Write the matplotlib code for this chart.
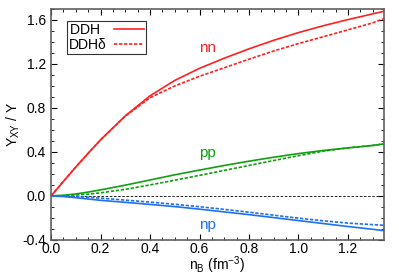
import numpy as np
import matplotlib
matplotlib.use("Agg")
import matplotlib.pyplot as plt
from matplotlib.ticker import MultipleLocator

plt.rcParams['font.family'] = ['Liberation Sans', 'DejaVu Sans']

# densities (fm^-3)
nB = [0.0, 0.05, 0.1, 0.15, 0.2, 0.3, 0.4, 0.5, 0.6, 0.7, 0.8, 0.9, 1.0, 1.1, 1.2, 1.3, 1.342]

# DDH (solid)
nn_ddh = [0.0, 0.132, 0.263, 0.388, 0.51, 0.728, 0.91, 1.05, 1.16, 1.252, 1.337, 1.415, 1.485,
          1.547, 1.603, 1.655, 1.677]
pp_ddh = [0.0, 0.006, 0.018, 0.035, 0.055, 0.098, 0.145, 0.192, 0.235, 0.277, 0.316, 0.352, 0.385,
          0.413, 0.437, 0.459, 0.472]
np_ddh = [0.0, -0.006, -0.016, -0.028, -0.04, -0.058, -0.077, -0.097, -0.12, -0.145, -0.17,
          -0.197, -0.224, -0.251, -0.278, -0.303, -0.315]

# DDH delta (dashed)
nn_dd = [0.0, 0.132, 0.263, 0.388, 0.51, 0.725, 0.893, 1.0, 1.088, 1.165, 1.243, 1.318, 1.385,
         1.447, 1.51, 1.573, 1.61]
pp_dd = [0.0, 0.003, 0.008, 0.016, 0.028, 0.06, 0.1, 0.143, 0.187, 0.232, 0.277, 0.322, 0.366,
         0.407, 0.437, 0.459, 0.472]
np_dd = [0.0, -0.002, -0.006, -0.012, -0.02, -0.038, -0.056, -0.076, -0.098, -0.122, -0.148,
         -0.175, -0.202, -0.226, -0.247, -0.261, -0.266]

red = '#ff2020'
green = '#10a010'
blue = '#2070f0'

fig = plt.figure(figsize=(3.99, 2.79), dpi=100)
ax = fig.add_axes([0.128, 0.14, 0.834, 0.828])

ax.axhline(0, color='black', lw=0.6, ls=(0, (3, 2)))

ax.plot(nB, nn_ddh, color=red, lw=1.2, label='DDH\u2002')
ax.plot(nB, nn_dd, color=red, lw=1.2, ls=(0, (2, 1)), label='DDH\u03b4')
ax.plot(nB, pp_ddh, color=green, lw=1.2)
ax.plot(nB, pp_dd, color=green, lw=1.2, ls=(0, (2, 1)))
ax.plot(nB, np_ddh, color=blue, lw=1.2)
ax.plot(nB, np_dd, color=blue, lw=1.2, ls=(0, (2, 1)))

ax.text(0.6, 1.345, 'nn', color=red, fontsize=11, va='center')
ax.text(0.6, 0.39, 'pp', color=green, fontsize=11, va='center')
ax.text(0.6, -0.26, 'np', color=blue, fontsize=11, va='center')

ax.set_xlim(0, 1.345)
ax.set_ylim(-0.4, 1.7)
ax.xaxis.set_major_locator(MultipleLocator(0.2))
ax.xaxis.set_minor_locator(MultipleLocator(0.05))
ax.yaxis.set_major_locator(MultipleLocator(0.4))
ax.yaxis.set_minor_locator(MultipleLocator(0.1))
ax.xaxis.set_major_formatter(lambda v, p: '%.1f' % v)
ax.yaxis.set_major_formatter(lambda v, p: '%.1f' % v)
ax.tick_params(which='both', direction='in', top=True, right=True, labelsize=10)
ax.tick_params(which='major', length=4)
ax.tick_params(which='minor', length=2)
ax.tick_params(axis='x', pad=1.5)
for s in ax.spines.values():
    s.set_color('#606060')
    s.set_linewidth(1.2)

ax.set_xlabel(r'n$_\mathregular{B}$ (fm$^\mathregular{-3}$)', fontsize=10, labelpad=-1)
ax.set_ylabel(r'Y$_\mathregular{XY}$ / Y', fontsize=10, labelpad=0)

leg = ax.legend(loc='upper left', bbox_to_anchor=(0.048, 0.948), fontsize=10,
                frameon=True, fancybox=False, edgecolor='black',
                handlelength=2.2, markerfirst=False, borderpad=0.15,
                labelspacing=0.05, handletextpad=0.5, borderaxespad=0)
leg.get_frame().set_linewidth(0.8)

fig.savefig('out.png', dpi=100)
